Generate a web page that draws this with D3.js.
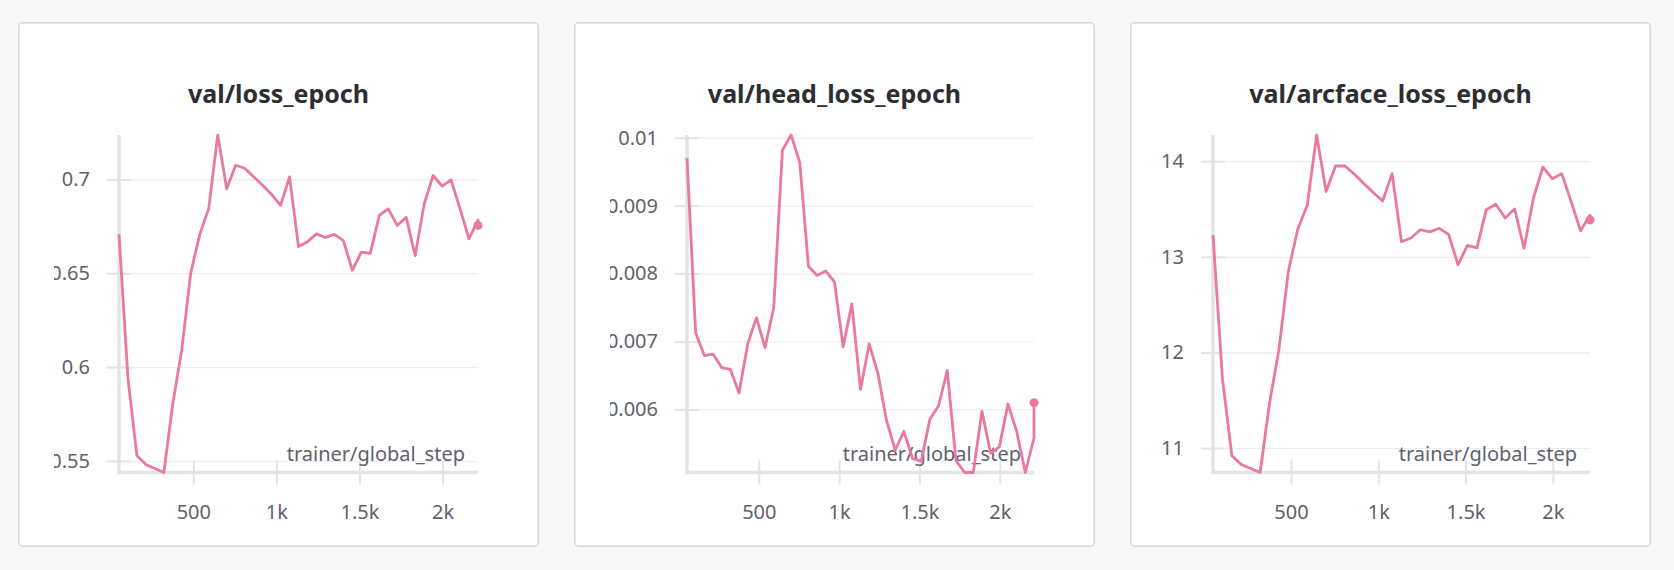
<!DOCTYPE html>
<html>
<head>
<meta charset="utf-8">
<script src="https://cdn.jsdelivr.net/npm/d3@7"></script>
<style>
  body { margin: 0; background: #f8f8f8; }
  svg { display: block; }
  text { font-family: "Noto Sans", sans-serif; }
</style>
</head>
<body>
<div id="chart"></div>
<script>
// trainer/global_step of each validation epoch (the last step is logged twice)
var steps = [53, 107, 161, 215, 269, 323, 377, 431, 485, 539, 593, 647, 701, 755, 809, 863,
             917, 971, 1025, 1079, 1133, 1187, 1241, 1295, 1349, 1403, 1457, 1511, 1565, 1619,
             1673, 1727, 1781, 1835, 1889, 1943, 1997, 2051, 2105, 2159, 2213, 2213];

var lossEpoch = [0.6707, 0.5939, 0.5527, 0.548, 0.5459, 0.5438, 0.5807, 0.6094, 0.6503, 0.6707,
                 0.6846, 0.7237, 0.695, 0.7076, 0.706, 0.7014, 0.6969, 0.692, 0.6862, 0.7014,
                 0.6642, 0.6668, 0.671, 0.6691, 0.6707, 0.6674, 0.6516, 0.6613, 0.6606, 0.6808,
                 0.6843, 0.6755, 0.6798, 0.6594, 0.6868, 0.7021, 0.6965, 0.6998, 0.6843, 0.6683,
                 0.6784, 0.6755];

var headLossEpoch = [0.0097, 0.007126, 0.006794, 0.006815, 0.006617, 0.00659, 0.006241, 0.006965,
                     0.007351, 0.006912, 0.0075, 0.009818, 0.01004, 0.009635, 0.008107, 0.007973,
                     0.008037, 0.007877, 0.006922, 0.007555, 0.006295, 0.006965, 0.006536, 0.005839,
                     0.0054, 0.005678, 0.005276, 0.005239, 0.005855, 0.006054, 0.006574, 0.005249,
                     0.005072, 0.005072, 0.005973, 0.005357, 0.005448, 0.00608, 0.005678, 0.005072,
                     0.00558, 0.0061];

var arcfaceLossEpoch = [13.226, 11.728, 10.92, 10.828, 10.786, 10.744, 11.469, 12.033, 12.852, 13.291,
                        13.539, 14.274, 13.684, 13.95, 13.95, 13.863, 13.767, 13.672, 13.584, 13.87,
                        13.157, 13.196, 13.283, 13.26, 13.298, 13.234, 12.917, 13.119, 13.093, 13.493,
                        13.55, 13.405, 13.501, 13.089, 13.615, 13.939, 13.817, 13.87, 13.577, 13.272,
                        13.436, 13.386];

var titles = ["val/loss_epoch", "val/head_loss_epoch", "val/arcface_loss_epoch"];
var xTicks = [500, 1000, 1500, 2000];
var xTickLabels = ["500", "1k", "1.5k", "2k"];
var yTicksLoss = [0.55, 0.6, 0.65, 0.7];
var yTicksHead = [0.006, 0.007, 0.008, 0.009, 0.01];
var yTicksArcface = [11, 12, 13, 14];
var xAxisTitle = "trainer/global_step";

// left = y axis position inside the panel, clip = where long tick labels get cut off
var panels = [
    {title: titles[0], values: lossEpoch, yTicks: yTicksLoss, left: 101, clip: 36},
    {title: titles[1], values: headLossEpoch, yTicks: yTicksHead, left: 113, clip: 36},
    {title: titles[2], values: arcfaceLossEpoch, yTicks: yTicksArcface, left: 83, clip: 0}
];

var width = 1674, height = 570;
var panelW = 521, panelH = 525, panelTop = 22, panelGap = 35, panelLeft = 18;
var plotTop = 113, plotBottom = 450.5, plotRightPad = 61;
var lineColor = "#e9799f", axisColor = "#e4e4e8", gridColor = "#ededed", labelColor = "#61616c";

var svg = d3.select("#chart").append("svg")
            .attr("width", width)
            .attr("height", height);

svg.append("rect")
   .attr("width", width)
   .attr("height", height)
   .attr("fill", "#f8f8f8");

panels.forEach(function(p, i){
    var g = svg.append("g")
               .attr("transform", "translate(" + (panelLeft + i * (panelW + panelGap)) + "," + panelTop + ")");

    g.append("rect")
     .attr("x", 0.75).attr("y", 0.75)
     .attr("width", panelW - 1.5).attr("height", panelH - 1.5)
     .attr("rx", 4)
     .attr("fill", "#fff")
     .attr("stroke", "#d6d6d6")
     .attr("stroke-width", 1.5);

    g.append("text")
     .attr("x", panelW / 2)
     .attr("y", 81)
     .attr("text-anchor", "middle")
     .attr("font-size", 25)
     .attr("font-weight", 700)
     .attr("fill", "#2c2e33")
     .text(p.title);

    var xScale = d3.scaleLinear()
                   .domain(d3.extent(steps))
                   .range([p.left, panelW - plotRightPad]);
    var yScale = d3.scaleLinear()
                   .domain(d3.extent(p.values))
                   .range([plotBottom, plotTop]);

    var x0 = p.left, x1 = panelW - plotRightPad;

    // clip for tick labels that run past the left edge
    var clipId = "yclip" + i;
    g.append("clipPath").attr("id", clipId)
     .append("rect").attr("x", p.clip).attr("y", 0).attr("width", panelW - p.clip).attr("height", panelH);

    // horizontal grid lines
    var yAxis = d3.axisLeft(yScale)
                  .tickValues(p.yTicks)
                  .tickSize(-(x1 - x0))
                  .tickFormat("");
    g.append("g")
     .attr("transform", "translate(" + x0 + ",0)")
     .call(yAxis)
     .call(function(a){
         a.select(".domain").remove();
         a.selectAll(".tick line").attr("stroke", gridColor).attr("stroke-width", 1.2);
     });

    // y ticks and labels
    var yTickAxis = d3.axisLeft(yScale)
                      .tickValues(p.yTicks)
                      .tickSize(12)
                      .tickPadding(17)
                      .tickFormat(d3.format("~g"));
    g.append("g")
     .attr("clip-path", "url(#" + clipId + ")")
     .append("g")
     .attr("transform", "translate(" + x0 + ",0)")
     .call(yTickAxis)
     .call(function(a){
         a.select(".domain").remove();
         a.selectAll(".tick line").attr("x2", -12).attr("x1", 12)
          .attr("stroke", axisColor).attr("stroke-width", 2);
         a.selectAll(".tick text").attr("fill", labelColor)
          .attr("font-size", 20).attr("font-family", "Noto Sans");
     });

    // x ticks and labels
    var xAxis = d3.axisBottom(xScale)
                  .tickValues(xTicks)
                  .tickSize(12)
                  .tickPadding(20)
                  .tickFormat(function(d, k){ return xTickLabels[k]; });
    g.append("g")
     .attr("transform", "translate(0," + plotBottom + ")")
     .call(xAxis)
     .call(function(a){
         a.select(".domain").remove();
         a.selectAll(".tick line").attr("y1", -12)
          .attr("stroke", axisColor).attr("stroke-width", 2);
         a.selectAll(".tick text").attr("fill", labelColor)
          .attr("font-size", 20).attr("font-family", "Noto Sans");
     });

    // axis lines
    g.append("line")
     .attr("x1", x0).attr("x2", x0)
     .attr("y1", plotTop).attr("y2", plotBottom + 1.5)
     .attr("stroke", axisColor).attr("stroke-width", 3.5);
    g.append("line")
     .attr("x1", x0 - 1.5).attr("x2", x1)
     .attr("y1", plotBottom).attr("y2", plotBottom)
     .attr("stroke", axisColor).attr("stroke-width", 3.5);

    g.append("text")
     .attr("x", x1 - 13)
     .attr("y", 439)
     .attr("text-anchor", "end")
     .attr("font-size", 20)
     .attr("fill", labelColor)
     .text(xAxisTitle);

    var line = d3.line()
                 .x(function(d, k){ return xScale(steps[k]); })
                 .y(function(d){ return yScale(d); });

    g.append("path")
     .attr("d", line(p.values))
     .attr("fill", "none")
     .attr("stroke", lineColor)
     .attr("stroke-width", 2.8)
     .attr("stroke-linejoin", "round");

    var last = p.values.length - 1;
    g.append("circle")
     .attr("cx", xScale(steps[last]))
     .attr("cy", yScale(p.values[last]))
     .attr("r", 4.5)
     .attr("fill", lineColor);
});
</script>
</body>
</html>
